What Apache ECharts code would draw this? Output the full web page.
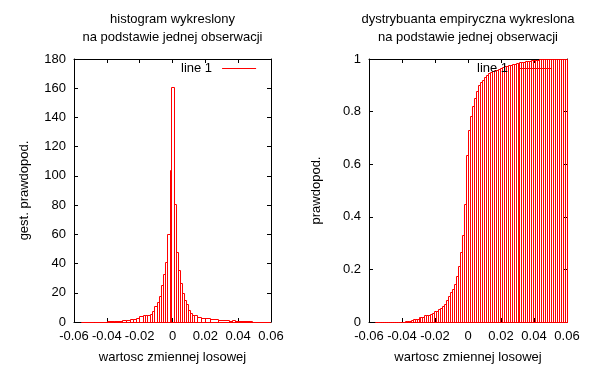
<!DOCTYPE html>
<html>
<head>
<meta charset="utf-8">
<script src="https://cdn.jsdelivr.net/npm/echarts@6/dist/echarts.min.js"></script>
<style>
html, body { margin: 0; padding: 0; background: #fff; }
#chart { width: 592px; height: 377px; }
</style>
</head>
<body>
<div id="chart"></div>
<script>
// histogram: box edges and heights
var histEdges = [
    -0.0560, -0.0480, -0.0397, -0.0355, -0.0310, -0.0285, -0.0259, -0.0239, -0.0222, -0.0202,
    -0.0182, -0.0167, -0.0153, -0.0139, -0.0125, -0.0111, -0.0096, -0.0084, -0.0070, -0.0056,
    -0.0044, -0.0032, -0.0017, -0.0009, 0.0007, 0.0019, 0.0031, 0.0044, 0.0056, 0.0068,
    0.0080, 0.0092, 0.0104, 0.0116, 0.0128, 0.0147, 0.0172, 0.0196, 0.0228, 0.0275,
    0.0342, 0.0362, 0.0379, 0.0482, 0.0594
];
var histValues = [
    0, 0, 0.7, 0.7, 1.4, 1.4, 2.2, 2.0, 2.5, 3.8,
    4.6, 4.6, 5.0, 5.4, 7.6, 10.8, 14, 18, 25, 33,
    41, 60, 104, 161, 80.5, 48, 35.6, 26.5, 20, 15,
    12.5, 8, 6, 4.8, 4.8, 3.2, 2.6, 2.5, 1.8, 1.4,
    0.7, 1.4, 0.7, 0
];

// empirical cdf: box edges and heights
var cdfEdges = [
    -0.0564, -0.0552, -0.0540, -0.0528, -0.0516, -0.0504, -0.0492, -0.0480, -0.0468, -0.0456,
    -0.0444, -0.0432, -0.0420, -0.0408, -0.0396, -0.0384, -0.0372, -0.0360, -0.0348, -0.0336,
    -0.0324, -0.0312, -0.0300, -0.0288, -0.0276, -0.0264, -0.0252, -0.0240, -0.0228, -0.0216,
    -0.0204, -0.0192, -0.0180, -0.0168, -0.0156, -0.0144, -0.0132, -0.0120, -0.0108, -0.0096,
    -0.0084, -0.0072, -0.0060, -0.0048, -0.0036, -0.0024, -0.0012, 0.0000, 0.0012, 0.0024,
    0.0036, 0.0048, 0.0060, 0.0072, 0.0084, 0.0096, 0.0108, 0.0120, 0.0132, 0.0144,
    0.0156, 0.0168, 0.0180, 0.0192, 0.0204, 0.0216, 0.0228, 0.0240, 0.0252, 0.0264,
    0.0276, 0.0288, 0.0300, 0.0312, 0.0324, 0.0336, 0.0348, 0.0360, 0.0372, 0.0384,
    0.0396, 0.0408, 0.0420, 0.0432, 0.0444, 0.0456, 0.0468, 0.0480, 0.0492, 0.0504,
    0.0516, 0.0528, 0.0540, 0.0552, 0.0564, 0.0576, 0.0588, 0.0600
];
var cdfValues = [
    0, 0, 0, 0, 0, 0, 0, 0, 0, 0,
    0, 0, 0, 0, 0, 0.005, 0.005, 0.005, 0.006, 0.011,
    0.011, 0.012, 0.019, 0.019, 0.020, 0.025, 0.025, 0.027, 0.032, 0.033,
    0.040, 0.043, 0.049, 0.055, 0.060, 0.070, 0.082, 0.098, 0.114, 0.125,
    0.144, 0.176, 0.212, 0.265, 0.332, 0.450, 0.636, 0.729, 0.785, 0.823,
    0.852, 0.877, 0.900, 0.911, 0.921, 0.932, 0.940, 0.945, 0.949, 0.953,
    0.957, 0.960, 0.963, 0.966, 0.970, 0.972, 0.974, 0.976, 0.978, 0.981,
    0.982, 0.984, 0.985, 0.987, 0.989, 0.990, 0.991, 0.992, 0.994, 0.995,
    0.996, 0.997, 0.998, 1, 1, 1, 1, 1, 1, 1,
    1, 1, 1, 1, 1, 1, 1
];

var xRange = [-0.06, 0.06], xStep = 0.02;
var histRange = [0, 180], histStep = 20;
var cdfRange = [0, 1], cdfStep = 0.2;

var FONT = '"Liberation Sans", Arial, sans-serif';
var RED = '#ff0000';

function toBoxes(edges, values) {
    var out = [];
    for (var i = 0; i < values.length; i++) {
        out.push([edges[i], edges[i + 1], values[i]]);
    }
    return out;
}

// gnuplot style "with boxes": outline only
function renderBox(params, api) {
    var lo = api.coord([api.value(0), 0]);
    var hi = api.coord([api.value(1), api.value(2)]);
    var x0 = Math.round(lo[0]) + 0.5, x1 = Math.round(hi[0]) + 0.5;
    var y0 = Math.round(lo[1]) + 0.5, y1 = Math.round(hi[1]) + 0.5;
    return {
        type: 'polygon',
        shape: { points: [[x0, y0], [x0, y1], [x1, y1], [x1, y0]] },
        style: { fill: null, stroke: RED, lineWidth: 1 }
    };
}

function xAxes(grid) {
    var base = {
        gridIndex: grid,
        type: 'value',
        min: xRange[0],
        max: xRange[1],
        interval: xStep,
        splitLine: { show: false },
        axisLine: { show: true, onZero: false, lineStyle: { color: '#000', width: 1 } },
        axisTick: { inside: true, length: 4, lineStyle: { color: '#000' } }
    };
    return [
        Object.assign({}, base, {
            position: 'bottom',
            name: 'wartosc zmiennej losowej',
            nameLocation: 'middle',
            nameGap: 29,
            nameTextStyle: { color: '#000', fontSize: 13, fontFamily: FONT },
            axisLabel: { color: '#000', fontSize: 13, fontFamily: FONT, margin: 8 }
        }),
        Object.assign({}, base, { position: 'top', axisLabel: { show: false } })
    ];
}

function yAxes(grid, range, step, name, gap) {
    var base = {
        gridIndex: grid,
        type: 'value',
        min: range[0],
        max: range[1],
        interval: step,
        splitLine: { show: false },
        axisLine: { show: true, onZero: false, lineStyle: { color: '#000', width: 1 } },
        axisTick: { inside: true, length: 4, lineStyle: { color: '#000' } }
    };
    return [
        Object.assign({}, base, {
            position: 'left',
            name: name,
            nameLocation: 'middle',
            nameGap: gap,
            nameTextStyle: { color: '#000', fontSize: 13, fontFamily: FONT },
            axisLabel: { color: '#000', fontSize: 13, fontFamily: FONT, margin: 8 }
        }),
        Object.assign({}, base, { position: 'right', axisLabel: { show: false } })
    ];
}

function legendAt(left) {
    return {
        left: left,
        top: 62,
        padding: 0,
        align: 'right',
        itemWidth: 34,
        itemHeight: 1,
        selectedMode: false,
        textStyle: { color: '#000', fontSize: 13, fontFamily: FONT, padding: [0, 5, 0, 0] },
        data: [{ name: 'line 1', icon: 'rect', itemStyle: { color: RED } }]
    };
}

var titleStyle = { color: '#000', fontSize: 13, fontWeight: 'normal', fontFamily: FONT, lineHeight: 18 };

var chartDom = document.getElementById('chart');
var myChart = echarts.init(chartDom);

var option = {
    animation: false,
    backgroundColor: '#fff',
    title: [
        {
            text: 'histogram wykreslony\nna podstawie jednej obserwacji',
            left: 172.5, top: 10, padding: 0, textAlign: 'center',
            textStyle: titleStyle
        },
        {
            text: 'dystrybuanta empiryczna wykreslona\nna podstawie jednej obserwacji',
            left: 468, top: 10, padding: 0, textAlign: 'center',
            textStyle: titleStyle
        }
    ],
    legend: [legendAt(181), legendAt(477)],
    grid: [
        { left: 74, top: 59, width: 197, height: 263, outerBoundsMode: 'none' },
        { left: 369, top: 59, width: 198, height: 263, outerBoundsMode: 'none' }
    ],
    xAxis: xAxes(0).concat(xAxes(1)),
    yAxis: yAxes(0, histRange, histStep, 'gest. prawdopod.', 43)
        .concat(yAxes(1, cdfRange, cdfStep, 'prawdopod.', 46)),
    series: [
        {
            name: 'line 1',
            type: 'custom',
            xAxisIndex: 0,
            yAxisIndex: 0,
            itemStyle: { color: RED },
            renderItem: renderBox,
            encode: { x: [0, 1], y: 2 },
            data: toBoxes(histEdges, histValues)
        },
        {
            name: 'line 1',
            type: 'custom',
            xAxisIndex: 2,
            yAxisIndex: 2,
            itemStyle: { color: RED },
            renderItem: renderBox,
            encode: { x: [0, 1], y: 2 },
            data: toBoxes(cdfEdges, cdfValues)
        }
    ]
};

option && myChart.setOption(option);
</script>
</body>
</html>
